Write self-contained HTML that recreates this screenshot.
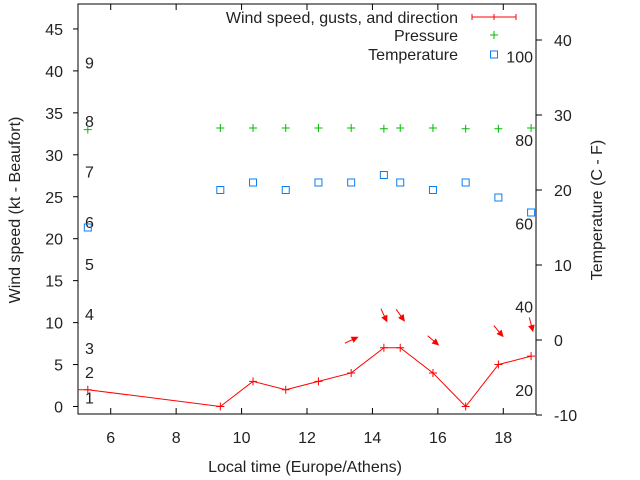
<!DOCTYPE html>
<html><head><meta charset="utf-8"><style>body{margin:0;background:#fff}svg{display:block;font-family:"Liberation Sans",sans-serif}</style></head>
<body>
<svg id="c" width="640" height="480"></svg>
<script>
const hours=[5.3,9.35,10.35,11.35,12.35,13.35,14.35,14.85,15.85,16.85,17.85,18.85];
const windKt=[2,0,3,2,3,4,7,7,4,0,5,6];
const pressure=[33,33.2,33.2,33.2,33.2,33.2,33.1,33.2,33.2,33.1,33.1,33.2];
const tempC=[15,20,21,20,21,21,22,21,20,21,19,17];
const arrowHours=[13.35,14.35,14.85,15.85,17.85,18.85];
const arrowKt=[7.9,10.9,10.9,7.9,9,9.8];
const arrowDeg=[-25,65,55,40,50,75];
const xTicks=[6,8,10,12,14,16,18];
const yTicks=[0,5,10,15,20,25,30,35,40,45];
const y2Ticks=[-10,0,10,20,30,40];
const beaufort=[1,2,3,4,5,6,7,8,9];
const beaufortKt=[1.1,4.1,7,11,17,22,28,34,41];
const fahr=[20,40,60,80,100];
const L=78,R=536,T=4,B=414,FS=16;
const X=h=>L+(h-5)*(R-L)/14;
const Y=v=>406.5-v*8.39;
const Y2=c=>340-c*7.5;
const s=document.getElementById('c');const NS='http://www.w3.org/2000/svg';
function el(t,a,txt){const e=document.createElementNS(NS,t);for(const k in a)e.setAttribute(k,a[k]);if(txt!==undefined)e.textContent=txt;s.appendChild(e);return e;}
let e;
e=el('rect',{x:L,y:T,width:R-L,height:B-T,fill:'none',stroke:'#000'});


xTicks.forEach(t=>{const x=X(t);
e=el('path',{d:`M${x} ${B}v-6M${x} ${T}v6`,stroke:'#000'});


e=el('text',{x:x,y:443,'text-anchor':'middle','font-size':FS,fill:'#222'},t);

});
yTicks.forEach(t=>{const y=Y(t);
e=el('path',{d:`M${L} ${y}h-5`,stroke:'#000'});


e=el('text',{x:63,y:y+6,'text-anchor':'end','font-size':FS,fill:'#222'},t);

});
y2Ticks.forEach(t=>{const y=Y2(t);
e=el('path',{d:`M${R} ${y}h6`,stroke:'#000'});


e=el('text',{x:554,y:y+6,'text-anchor':'start','font-size':FS,fill:'#222'},t);

});
beaufort.forEach((b,i)=>{
e=el('text',{x:85,y:Y(beaufortKt[i])+6,'font-size':FS,fill:'#222'},b);

});
fahr.forEach(f=>{
e=el('text',{x:533,y:Y2((f-32)*5/9)+6,'text-anchor':'end','font-size':FS,fill:'#222'},f);

});
e=el('text',{transform:'translate(20,210) rotate(-90)','text-anchor':'middle','font-size':FS,fill:'#222'},'Wind speed (kt - Beaufort)');


e=el('text',{transform:'translate(602,210) rotate(-90)','text-anchor':'middle','font-size':FS,fill:'#222'},'Temperature (C - F)');


e=el('text',{x:305,y:472,'text-anchor':'middle','font-size':FS,fill:'#222'},'Local time (Europe/Athens)');


let d=`M${L} ${Y(windKt[0])}`+hours.map((h,i)=>`L${X(h)} ${Y(windKt[i])}`).join('');
e=el('path',{d:d,fill:'none',stroke:'#f00'});


hours.forEach((h,i)=>{const x=X(h),y=Y(windKt[i]);
e=el('path',{d:`M${x-4} ${y}h8M${x} ${y-4}v8`,stroke:'#f00'});


const py=Y(pressure[i]);
e=el('path',{d:`M${x-4} ${py}h8M${x} ${py-4}v8`,stroke:'#0b0'});


const ty=Y2(tempC[i]);
e=el('rect',{x:x-3.5,y:ty-3.5,width:7,height:7,fill:'none',stroke:'#0a7ff0'});

});
arrowHours.forEach((h,i)=>{const cx=X(h),cy=Y(arrowKt[i]),a=arrowDeg[i]*Math.PI/180;
const dx=Math.cos(a)*7,dy=Math.sin(a)*7;
const tx=cx+dx,ty=cy+dy;
const b1=a+2.7,b2=a-2.7;
e=el('path',{d:`M${cx-dx} ${cy-dy}L${tx} ${ty}M${tx} ${ty}L${tx+Math.cos(b1)*6} ${ty+Math.sin(b1)*6}L${tx+Math.cos(b2)*6} ${ty+Math.sin(b2)*6}Z`,stroke:'#f00',fill:'#f00'});

});
const lg=[['Wind speed, gusts, and direction',23],['Pressure',41],['Temperature',60]];
lg.forEach((l,i)=>{
e=el('text',{x:458,y:l[1],'text-anchor':'end','font-size':FS,fill:'#222'},l[0]);

});
e=el('path',{d:'M472 17h44M472 14v6M494 14v6M516 14v6',stroke:'#f00'});


e=el('path',{d:'M490 35h8M494 31v8',stroke:'#0b0'});


e=el('rect',{x:490.5,y:51,width:7,height:7,fill:'none',stroke:'#0a7ff0'});


</script>
</body></html>
